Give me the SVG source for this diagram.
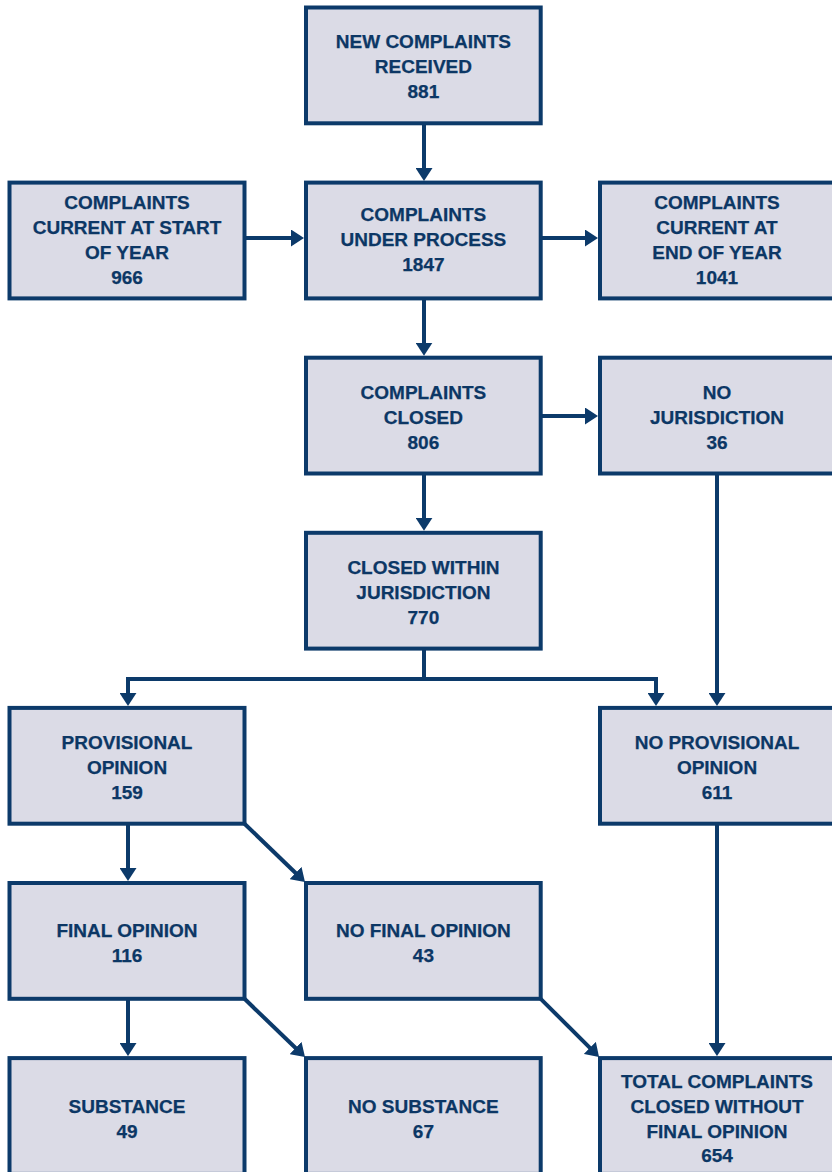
<svg xmlns="http://www.w3.org/2000/svg" width="832" height="1172" viewBox="0 0 832 1172">
<style>
.box{fill:#dbdbe6;stroke:#0c3a6a;stroke-width:4}
.lbl{font-family:"Liberation Sans",Arial,sans-serif;font-weight:bold;font-size:19px;fill:#0c3765;stroke:#0c3765;stroke-width:0.25;text-anchor:middle}
.con{fill:none;stroke:#0c3a6a;stroke-width:4;stroke-linejoin:miter}
.arr{marker-end:url(#ah)}
</style>
<defs>
<marker id="ah" markerUnits="userSpaceOnUse" markerWidth="13" markerHeight="17" viewBox="0 0 13 17" refX="9" refY="8.5" orient="auto">
<path d="M0,0 L13,8.5 L0,17 z" fill="#0c3a6a"/>
</marker>
</defs>
<rect width="832" height="1172" fill="#ffffff"/>
<g id="connectors">
<path class="con arr" d="M424,123.3 V177"/>
<path class="con arr" d="M424,298.4 V351.7"/>
<path class="con arr" d="M424,473.5 V526.8"/>
<path class="con arr" d="M424,648.6 V679 H128 V701.9"/>
<path class="con arr" d="M424,679 H656 V701.9"/>
<path class="con arr" d="M717,473.5 V701.9"/>
<path class="con arr" d="M244.5,238 H300"/>
<path class="con arr" d="M540.7,238 H594"/>
<path class="con arr" d="M540.7,416 H594"/>
<path class="con arr" d="M128,823.7 V877"/>
<path class="con arr" d="M244.5,823.7 L302.1,879.2"/>
<path class="con arr" d="M717,823.7 V1052.1"/>
<path class="con arr" d="M128,998.8 V1052.1"/>
<path class="con arr" d="M244.5,998.8 L302.1,1054.2"/>
<path class="con arr" d="M540.7,998.8 L596.2,1054.2"/>
</g>
<g id="n_new">
<rect class="box" x="306" y="7.5" width="234.7" height="115.8"/>
<text class="lbl" x="423.4" y="48.4">NEW COMPLAINTS</text>
<text class="lbl" x="423.4" y="73.4">RECEIVED</text>
<text class="lbl" x="423.4" y="98.4">881</text>
</g>
<g id="n_start">
<rect class="box" x="9.5" y="182.6" width="235" height="115.8"/>
<text class="lbl" x="127" y="208.5">COMPLAINTS</text>
<text class="lbl" x="127" y="233.5">CURRENT AT START</text>
<text class="lbl" x="127" y="258.5">OF YEAR</text>
<text class="lbl" x="127" y="283.5">966</text>
</g>
<g id="n_process">
<rect class="box" x="306" y="182.6" width="234.7" height="115.8"/>
<text class="lbl" x="423.4" y="221">COMPLAINTS</text>
<text class="lbl" x="423.4" y="246">UNDER PROCESS</text>
<text class="lbl" x="423.4" y="271">1847</text>
</g>
<g id="n_end">
<rect class="box" x="600" y="182.6" width="235" height="115.8"/>
<text class="lbl" x="717" y="208.5">COMPLAINTS</text>
<text class="lbl" x="717" y="233.5">CURRENT AT</text>
<text class="lbl" x="717" y="258.5">END OF YEAR</text>
<text class="lbl" x="717" y="283.5">1041</text>
</g>
<g id="n_closed">
<rect class="box" x="306" y="357.7" width="234.7" height="115.8"/>
<text class="lbl" x="423.4" y="398.6">COMPLAINTS</text>
<text class="lbl" x="423.4" y="423.6">CLOSED</text>
<text class="lbl" x="423.4" y="448.6">806</text>
</g>
<g id="n_nojur">
<rect class="box" x="600" y="357.7" width="235" height="115.8"/>
<text class="lbl" x="717" y="398.6">NO</text>
<text class="lbl" x="717" y="423.6">JURISDICTION</text>
<text class="lbl" x="717" y="448.6">36</text>
</g>
<g id="n_cwj">
<rect class="box" x="306" y="532.8" width="234.7" height="115.8"/>
<text class="lbl" x="423.4" y="573.7">CLOSED WITHIN</text>
<text class="lbl" x="423.4" y="598.7">JURISDICTION</text>
<text class="lbl" x="423.4" y="623.7">770</text>
</g>
<g id="n_prov">
<rect class="box" x="9.5" y="707.9" width="235" height="115.8"/>
<text class="lbl" x="127" y="748.8">PROVISIONAL</text>
<text class="lbl" x="127" y="773.8">OPINION</text>
<text class="lbl" x="127" y="798.8">159</text>
</g>
<g id="n_noprov">
<rect class="box" x="600" y="707.9" width="235" height="115.8"/>
<text class="lbl" x="717" y="748.8">NO PROVISIONAL</text>
<text class="lbl" x="717" y="773.8">OPINION</text>
<text class="lbl" x="717" y="798.8">611</text>
</g>
<g id="n_final">
<rect class="box" x="9.5" y="883" width="235" height="115.8"/>
<text class="lbl" x="127" y="937">FINAL OPINION</text>
<text class="lbl" x="127" y="962">116</text>
</g>
<g id="n_nofinal">
<rect class="box" x="306" y="883" width="234.7" height="115.8"/>
<text class="lbl" x="423.4" y="937">NO FINAL OPINION</text>
<text class="lbl" x="423.4" y="962">43</text>
</g>
<g id="n_subst">
<rect class="box" x="9.5" y="1058.1" width="235" height="115.8"/>
<text class="lbl" x="127" y="1113">SUBSTANCE</text>
<text class="lbl" x="127" y="1138">49</text>
</g>
<g id="n_nosubst">
<rect class="box" x="306" y="1058.1" width="234.7" height="115.8"/>
<text class="lbl" x="423.4" y="1113">NO SUBSTANCE</text>
<text class="lbl" x="423.4" y="1138">67</text>
</g>
<g id="n_total">
<rect class="box" x="600" y="1058.1" width="235" height="115.8"/>
<text class="lbl" x="717" y="1087.5">TOTAL COMPLAINTS</text>
<text class="lbl" x="717" y="1112.5">CLOSED WITHOUT</text>
<text class="lbl" x="717" y="1137.5">FINAL OPINION</text>
<text class="lbl" x="717" y="1162">654</text>
</g>
</svg>
